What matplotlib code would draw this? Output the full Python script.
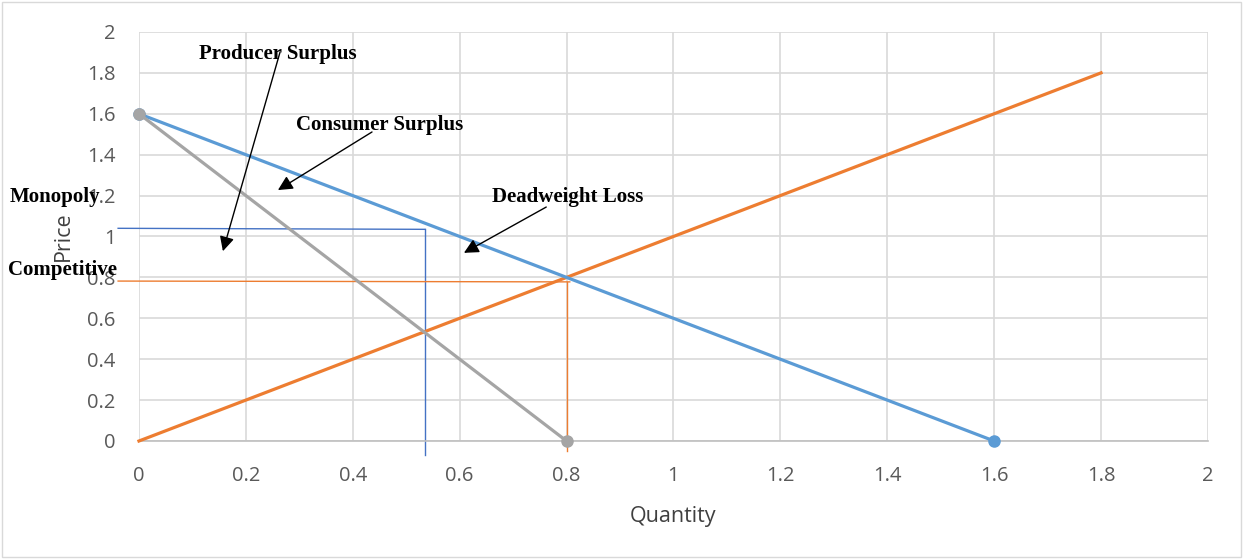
import matplotlib
matplotlib.use("Agg")
import matplotlib.pyplot as plt
import numpy as np

# data
demand_x = [0, 1.6]
demand_y = [1.6, 0]
mr_x = [0, 0.8]
mr_y = [1.6, 0]
supply_x = [0, 1.8]
supply_y = [0, 1.8]

monopoly_q = 0.535
monopoly_p = 1.035
comp_q = 0.8
comp_p = 0.778

xticks = np.arange(0, 2.01, 0.2)
yticks = np.arange(0, 2.01, 0.2)

serif = ['Liberation Serif', 'DejaVu Serif']
tick_font = ['Open Sans', 'DejaVu Sans']

fig = plt.figure(figsize=(12.43, 5.59), dpi=100)
ax = fig.add_axes([0.1118, 0.2111, 0.8600, 0.7317])

# frame around the whole chart
fig.patches.append(plt.Rectangle((0.002, 0.003), 0.996, 0.994, transform=fig.transFigure,
                                 fill=False, edgecolor='#D9D9D9', lw=1))

ax.set_xlim(0, 2)
ax.set_ylim(0, 2)
ax.set_xticks(xticks)
ax.set_yticks(yticks)
ax.set_xticklabels(['%g' % round(v, 1) for v in xticks], fontfamily=tick_font, fontsize=14.5, color='#595959')
ax.set_yticklabels(['%g' % round(v, 1) for v in yticks], fontfamily=tick_font, fontsize=14.5, color='#595959')
ax.tick_params(axis='x', length=0, pad=18)
ax.tick_params(axis='y', length=0, pad=17)
ax.grid(True, color='#D9D9D9', lw=1.2)
ax.set_axisbelow(True)
for s in ['top', 'left', 'right']:
    ax.spines[s].set_visible(False)
ax.spines['bottom'].set_color('#BFBFBF')
ax.spines['bottom'].set_linewidth(1.2)

ax.set_xlabel('Quantity', fontfamily=tick_font, fontsize=15.5, color='#404040')
ax.xaxis.set_label_coords(0.5, -0.158)
ax.set_ylabel('Price', fontfamily=tick_font, fontsize=15.5, color='#404040')
ax.yaxis.set_label_coords(-0.061, 0.5)

# thin guide lines (monopoly and competitive)
ax.plot([-0.039, monopoly_q], [monopoly_p + 0.005, monopoly_p], color='#4472C4', lw=1, clip_on=False)
ax.plot([monopoly_q, monopoly_q], [monopoly_p, -0.068], color='#4472C4', lw=1, clip_on=False)
ax.plot([-0.039, comp_q + 0.006], [comp_p + 0.004, comp_p], color='#ED7D31', lw=1, clip_on=False)
ax.plot([comp_q, comp_q], [comp_p, -0.05], color='#ED7D31', lw=1, clip_on=False)

# curves
ax.plot(demand_x, demand_y, color='#5B9BD5', lw=2.3, marker='o', markersize=8, clip_on=False, zorder=4)
ax.plot(mr_x, mr_y, color='#A5A5A5', lw=2.3, marker='o', markersize=8, clip_on=False, zorder=4)
ax.plot(supply_x, supply_y, color='#ED7D31', lw=2.3, clip_on=False, zorder=3)

# labels and arrows
txt = dict(fontfamily=serif, fontsize=15, fontweight='bold', ha='center', va='center', zorder=6)
ax.text(0.26, 1.89, 'Producer Surplus', **txt)
ax.text(0.451, 1.545, 'Consumer Surplus', **txt)
ax.text(0.803, 1.193, 'Deadweight Loss', **txt)
ax.text(-0.157, 1.193, 'Monopoly', clip_on=False, **txt)
ax.text(-0.144, 0.836, 'Competitive', clip_on=False, **txt)

arrow = dict(arrowstyle='-|>', mutation_scale=22, lw=1, color='black', shrinkA=0, shrinkB=0)
ax.annotate('', xy=(0.157, 0.928), xytext=(0.264, 1.902), arrowprops=arrow, zorder=6)
ax.annotate('', xy=(0.260, 1.227), xytext=(0.436, 1.511), arrowprops=arrow, zorder=6)
ax.annotate('', xy=(0.608, 0.920), xytext=(0.762, 1.144), arrowprops=arrow, zorder=6)

fig.savefig('out.png', dpi=100)
